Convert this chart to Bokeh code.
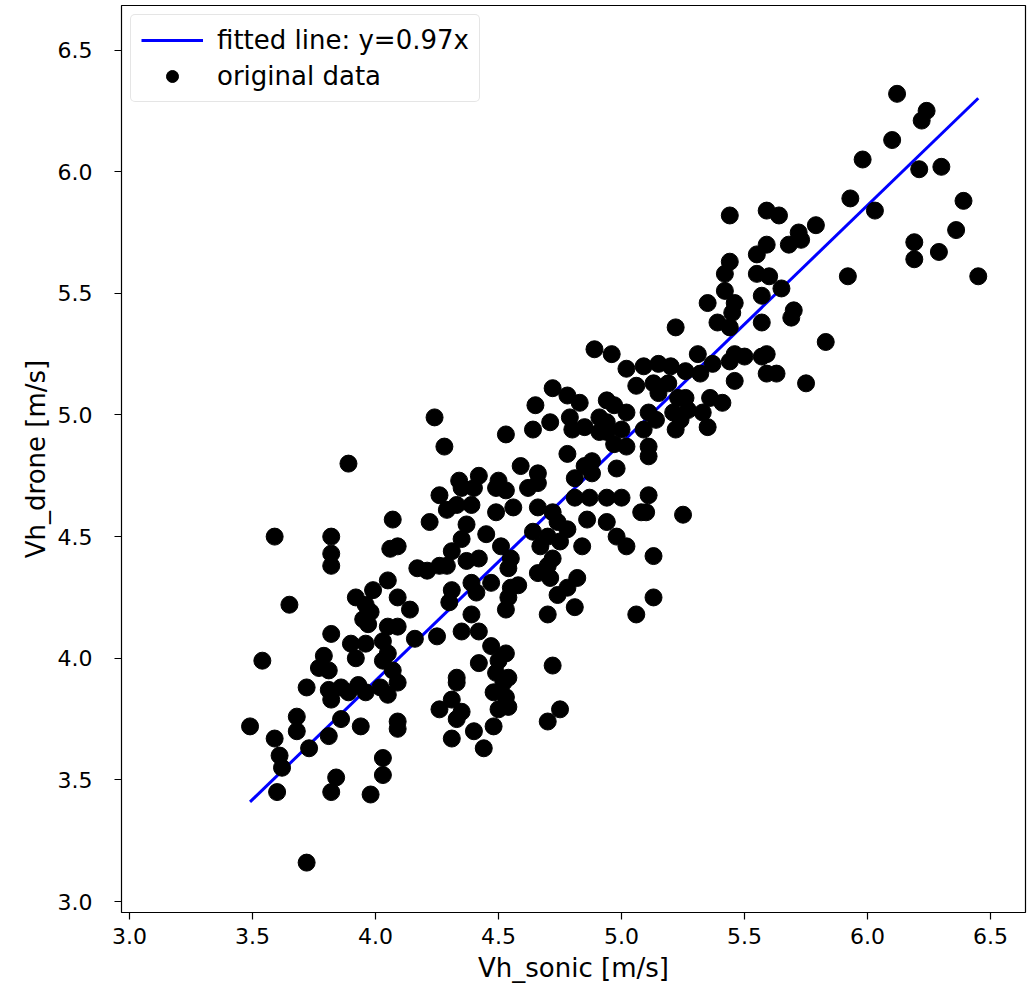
from bokeh.plotting import figure
from bokeh.models import Range1d, FixedTicker, PrintfTickFormatter, Legend, LegendItem, ColumnDataSource
from bokeh.embed import file_html
from bokeh.resources import INLINE

vh_sonic = [
    6.12, 6.24, 6.22, 6.10, 5.98, 6.21, 6.30, 5.93, 6.03, 6.39,
    5.44, 5.59, 5.64, 5.79, 5.72, 5.73, 5.68, 5.59, 5.55, 6.19,
    6.19, 6.29, 6.36, 5.44, 5.42, 5.55, 5.60, 5.92, 6.45,
    5.42, 5.35, 5.46, 5.45, 5.39, 5.44, 5.57, 5.65, 5.70, 5.69,
    5.57, 5.83, 5.31, 5.46, 5.50, 5.44, 5.57, 5.59, 5.59, 5.63,
    5.46, 5.75, 5.37, 5.32, 5.26, 5.36, 5.41, 5.26, 5.27, 5.24,
    5.33, 5.35,
    5.22, 4.89, 4.96, 5.02, 5.09, 5.15, 5.20, 5.06, 5.13, 5.19,
    5.15, 5.23, 4.72, 4.78, 4.83, 4.94, 4.97, 5.02, 4.65, 4.71,
    4.79, 4.80, 4.85, 4.91, 4.94, 4.91, 4.94, 5.00, 4.64, 5.11,
    5.09, 5.14, 5.21, 5.22, 4.97, 5.02, 5.11, 5.11, 4.24, 4.28,
    4.53, 4.78, 4.59, 4.42, 4.50, 4.66, 4.85, 4.98, 4.88, 4.81,
    4.34, 4.88,
    3.89, 3.59, 3.82, 3.82, 3.82, 4.07, 4.06, 4.09, 4.17, 3.65,
    4.05, 3.99, 4.09, 3.92, 3.96, 4.14, 3.98, 3.95, 3.97, 3.82,
    4.05, 4.09, 4.16, 3.90, 3.96, 4.03, 4.05, 4.03, 3.92, 3.79,
    3.54, 3.77, 3.81, 4.07,
    3.72, 3.81, 3.82, 3.86, 3.89, 3.93, 3.96, 4.02, 4.05, 4.09,
    3.86, 3.68, 3.68, 3.49, 3.59, 3.94, 4.09, 4.09, 3.81, 3.73,
    3.61, 3.62, 4.03, 4.03, 3.84, 3.82, 3.60, 3.98, 3.72,
    4.33, 4.31, 4.26, 4.35, 4.33, 4.31, 4.40, 4.44, 4.48, 4.48,
    4.52, 4.53, 4.50, 4.54, 4.75, 4.70,
    4.26, 4.22, 4.29, 4.33, 4.39, 4.35, 4.40, 4.49, 4.53, 4.62,
    4.66, 4.49, 4.56, 4.66, 4.72, 4.81, 4.87, 4.86, 4.37, 4.35,
    4.31, 4.45, 4.51, 4.55, 4.54, 4.37, 4.42, 4.21, 4.26, 4.29,
    4.64, 4.70, 4.67, 4.75, 4.78, 4.74, 4.72, 4.70, 4.84, 4.66,
    4.71, 4.39, 4.41, 4.47, 4.55, 4.58, 4.54, 4.53, 4.82, 4.78,
    4.74, 4.31, 4.30, 4.81, 4.70, 4.39, 4.35, 4.42, 4.25, 4.47,
    4.53, 4.50, 4.42, 4.33, 4.49, 4.54, 4.72,
    4.94, 5.00, 5.11, 5.08, 5.10, 5.25, 4.94, 4.98, 5.02, 5.13,
    5.13, 5.06,
]

vh_drone = [
    6.32, 6.25, 6.21, 6.13, 6.05, 6.01, 6.02, 5.89, 5.84, 5.88,
    5.82, 5.84, 5.82, 5.78, 5.75, 5.72, 5.70, 5.70, 5.66, 5.71,
    5.64, 5.67, 5.76, 5.63, 5.58, 5.58, 5.57, 5.57, 5.57,
    5.51, 5.46, 5.46, 5.42, 5.38, 5.36, 5.49, 5.52, 5.43, 5.40,
    5.38, 5.30, 5.25, 5.25, 5.24, 5.22, 5.24, 5.25, 5.17, 5.17,
    5.14, 5.13, 5.21, 5.17, 5.18, 5.07, 5.05, 5.07, 5.02, 4.98,
    5.01, 4.95,
    5.36, 5.27, 5.25, 5.19, 5.20, 5.21, 5.20, 5.12, 5.13, 5.13,
    5.09, 5.07, 5.11, 5.08, 5.05, 5.06, 5.04, 5.01, 5.04, 4.97,
    4.99, 4.94, 4.95, 4.99, 4.97, 4.93, 4.93, 4.94, 4.94, 5.01,
    4.94, 4.98, 5.01, 4.94, 4.88, 4.87, 4.87, 4.83, 4.99, 4.87,
    4.92, 4.84, 4.79, 4.75, 4.73, 4.76, 4.79, 4.78, 4.81, 4.74,
    4.73, 4.76,
    4.80, 4.50, 4.50, 4.43, 4.38, 4.57, 4.45, 4.46, 4.37, 4.22,
    4.32, 4.28, 4.25, 4.25, 4.22, 4.20, 4.19, 4.16, 4.14, 4.10,
    4.13, 4.13, 4.08, 4.06, 4.06, 4.07, 4.02, 3.99, 4.00, 4.01,
    3.99, 3.96, 3.95, 3.95,
    3.88, 3.87, 3.83, 3.88, 3.86, 3.89, 3.86, 3.88, 3.85, 3.90,
    3.75, 3.76, 3.70, 3.72, 3.67, 3.72, 3.74, 3.71, 3.68, 3.63,
    3.60, 3.55, 3.59, 3.52, 3.51, 3.45, 3.45, 3.44, 3.16,
    3.90, 3.83, 3.79, 3.78, 3.75, 3.67, 3.70, 3.63, 3.72, 3.86,
    3.90, 3.84, 3.79, 3.80, 3.79, 3.74,
    4.67, 4.56, 4.61, 4.63, 4.63, 4.70, 4.70, 4.70, 4.69, 4.70,
    4.72, 4.60, 4.62, 4.62, 4.60, 4.66, 4.66, 4.57, 4.55, 4.49,
    4.44, 4.51, 4.46, 4.41, 4.37, 4.40, 4.41, 4.36, 4.38, 4.38,
    4.52, 4.50, 4.46, 4.48, 4.53, 4.56, 4.41, 4.38, 4.46, 4.35,
    4.33, 4.31, 4.27, 4.31, 4.29, 4.30, 4.25, 4.20, 4.33, 4.29,
    4.26, 4.28, 4.23, 4.21, 4.18, 4.18, 4.11, 4.11, 4.09, 4.05,
    4.02, 3.99, 3.98, 3.92, 3.94, 3.92, 3.97,
    4.66, 4.66, 4.67, 4.60, 4.60, 4.59, 4.56, 4.50, 4.46, 4.42,
    4.25, 4.18,
]

fit_slope = 0.977
fit_label = "fitted line: y=0.97x"
data_label = "original data"
x_label = "Vh_sonic [m/s]"
y_label = "Vh_drone [m/s]"
tick_values = [3.0, 3.5, 4.0, 4.5, 5.0, 5.5, 6.0, 6.5]

FONT = "DejaVu Sans"
TICK_FS = "22px"
LABEL_FS = "26px"

p = figure(width=1035, height=992, output_backend="svg", toolbar_location=None,
           x_range=Range1d(2.9675, 6.642), y_range=Range1d(2.955, 6.683),
           min_border_left=121, min_border_right=10, min_border_top=5, min_border_bottom=80)
p.background_fill_color = "white"
p.border_fill_color = "white"
p.outline_line_color = "black"
p.outline_line_width = 1.2
p.xgrid.visible = False
p.ygrid.visible = False

for ax in (p.xaxis[0], p.yaxis[0]):
    ax.ticker = FixedTicker(ticks=tick_values)
    ax.formatter = PrintfTickFormatter(format="%.1f")
    ax.major_tick_out = 7
    ax.major_tick_in = 0
    ax.minor_tick_line_color = None
    ax.axis_line_color = None
    ax.major_tick_line_color = "black"
    ax.major_tick_line_width = 1.2
    ax.major_label_text_font = FONT
    ax.major_label_text_font_size = TICK_FS
    ax.major_label_text_color = "black"
    ax.axis_label_text_font = FONT
    ax.axis_label_text_font_size = LABEL_FS
    ax.axis_label_text_font_style = "normal"
    ax.axis_label_text_color = "black"

p.xaxis.axis_label = x_label
p.yaxis.axis_label = y_label
p.xaxis.major_label_standoff = 8
p.yaxis.major_label_standoff = 22
p.xaxis.axis_label_standoff = 6
p.yaxis.axis_label_standoff = 4

line_x = [min(vh_sonic), max(vh_sonic)]
line_y = [fit_slope * v for v in line_x]
r_line = p.line(line_x, line_y, line_color="blue", line_width=3)

src = ColumnDataSource(dict(x=vh_sonic, y=vh_drone))
r_pts = p.scatter("x", "y", source=src, size=17, fill_color="black", line_color="black")

legend = Legend(items=[LegendItem(label=fit_label, renderers=[r_line]),
                       LegendItem(label=data_label, renderers=[r_pts])],
                location="top_left")
legend.label_text_font = FONT
legend.label_text_font_size = LABEL_FS
legend.label_text_color = "black"
legend.border_line_color = "#cccccc"
legend.border_line_width = 1
legend.border_radius = 5
legend.background_fill_alpha = 0.8
legend.glyph_width = 62
legend.glyph_height = 30
legend.label_standoff = 14
legend.spacing = 6
legend.padding = 10
legend.margin = 9
p.add_layout(legend)

open("out.html", "w").write(file_html(p, INLINE))
